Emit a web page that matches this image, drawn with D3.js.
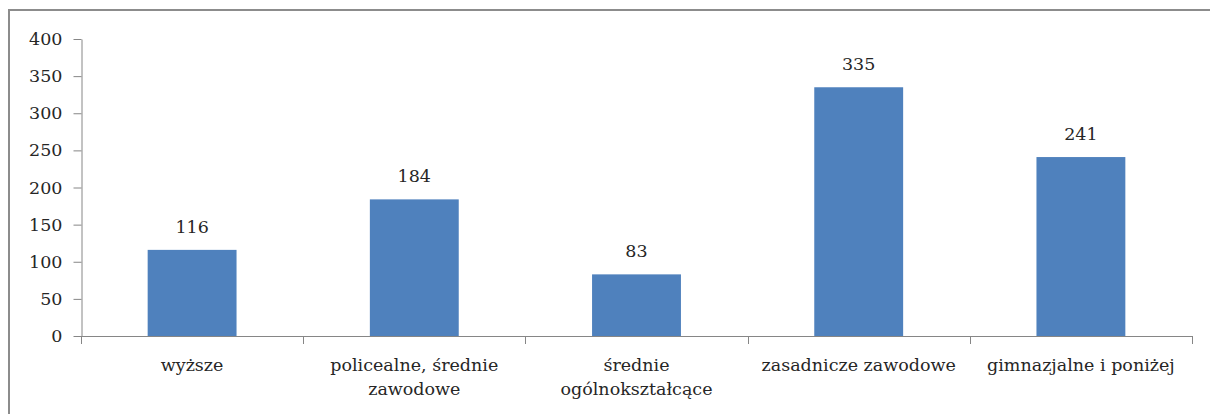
<!DOCTYPE html>
<html>
<head>
<meta charset="utf-8">
<script src="https://cdn.jsdelivr.net/npm/d3@7"></script>
<style>
  body { margin: 0; background: #fff; }
  svg { display: block; }
  text { font-family: 'DejaVu Serif', serif; fill: #262626; }
</style>
</head>
<body>
<svg width="1210" height="414"></svg>
<script>
'use strict';

const categories = [
  'wyższe',
  'policealne, średnie zawodowe',
  'średnie ogólnokształcące',
  'zasadnicze zawodowe',
  'gimnazjalne i poniżej'
];

// category labels as they wrap under the axis
const category_lines = [
  ['wyższe'],
  ['policealne, średnie', 'zawodowe'],
  ['średnie', 'ogólnokształcące'],
  ['zasadnicze zawodowe'],
  ['gimnazjalne i poniżej']
];

const values = [116, 184, 83, 335, 241];

const y_ticks = [0, 50, 100, 150, 200, 250, 300, 350, 400];

const svg = d3.select('svg');

// outer chart frame (only top and left edges fall inside the window)
svg.append('path')
  .attr('d', 'M9,414 V10 H1210')
  .attr('fill', 'none')
  .attr('stroke', '#8c8c8c')
  .attr('stroke-width', 2);

const plot = { left: 81, right: 1192, top: 39, bottom: 336 };

const x = d3.scaleBand()
  .domain(categories)
  .range([plot.left, plot.right])
  .paddingInner(0.6)
  .paddingOuter(0.3);

const y = d3.scaleLinear()
  .domain([0, 400])
  .range([plot.bottom, plot.top]);

// y axis
const y_axis = svg.append('g')
  .attr('transform', `translate(${plot.left + 0.5},0)`)
  .call(d3.axisLeft(y).tickValues(y_ticks).tickSize(8).tickPadding(11).tickSizeOuter(0));
y_axis.select('.domain').attr('stroke', '#868686');
y_axis.selectAll('.tick line').attr('stroke', '#868686');
y_axis.selectAll('.tick text')
  .attr('fill', '#262626')
  .style('font-family', "'DejaVu Serif', serif")
  .style('font-size', '17.5px');

// bars
svg.append('g').selectAll('rect')
  .data(values)
  .join('rect')
  .attr('x', (d, i) => x(categories[i]))
  .attr('width', x.bandwidth())
  .attr('y', d => y(d))
  .attr('height', d => y(0) - y(d))
  .attr('fill', '#4f81bd');

// x axis line and category separators
const step = x.step();
const x_line = svg.append('g');
x_line.append('line')
  .attr('x1', plot.left).attr('x2', plot.right)
  .attr('y1', plot.bottom + 0.5).attr('y2', plot.bottom + 0.5)
  .attr('stroke', '#868686');
const edges = categories.map(c => x(c) - x.paddingInner() * step / 2)
  .concat([plot.right]);
x_line.selectAll('line.sep')
  .data(edges)
  .join('line')
  .attr('class', 'sep')
  .attr('x1', d => Math.round(d) + 0.5).attr('x2', d => Math.round(d) + 0.5)
  .attr('y1', plot.bottom).attr('y2', plot.bottom + 8)
  .attr('stroke', '#868686');

// value labels
svg.append('g').selectAll('text')
  .data(values)
  .join('text')
  .attr('x', (d, i) => x(categories[i]) + x.bandwidth() / 2)
  .attr('y', d => y(d) - 17)
  .attr('text-anchor', 'middle')
  .style('font-size', '17.5px')
  .text(d => d);

// category labels
const cat_labels = svg.append('g').selectAll('text')
  .data(category_lines)
  .join('text')
  .attr('x', (d, i) => x(categories[i]) + x.bandwidth() / 2)
  .attr('y', 371)
  .attr('text-anchor', 'middle')
  .style('font-size', '17.5px');
cat_labels.selectAll('tspan')
  .data(d => d)
  .join('tspan')
  .attr('x', function() { return this.parentNode.getAttribute('x'); })
  .attr('dy', (d, i) => i === 0 ? 0 : 24)
  .text(d => d);
</script>
</body>
</html>
